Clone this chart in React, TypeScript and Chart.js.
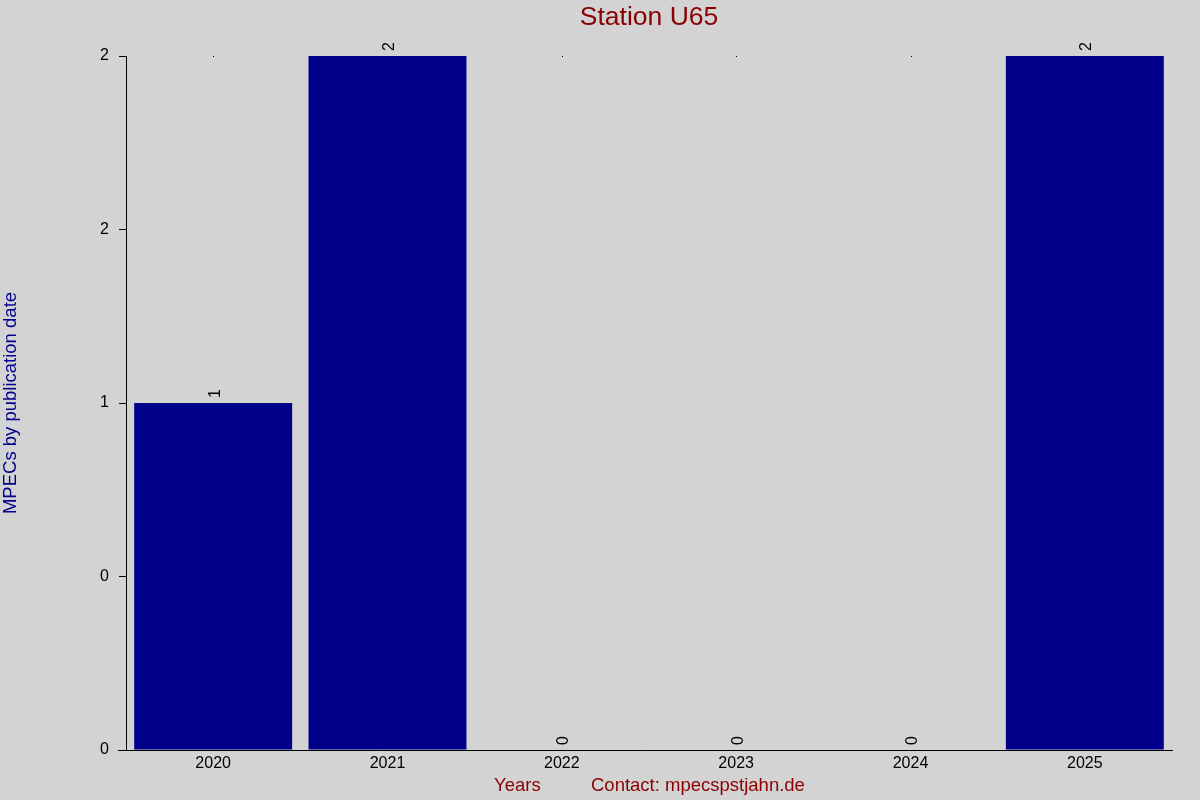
import React, { useEffect, useRef } from "react";
import { Chart, registerables } from "chart.js";

Chart.register(...registerables);

const categories = ["2020", "2021", "2022", "2023", "2024", "2025"];
const mpecCounts = [1, 2, 0, 0, 0, 2];
const yTickLabels = ["0", "0", "1", "2", "2"];
const titleText = "Station U65";
const yAxisTitle = "MPECs by publication date";
const xAxisTitle = "Years";
const contactText = "Contact: mpecspstjahn.de";

const FONT = "'Liberation Sans', Arial, Helvetica, sans-serif";

const overlayPlugin = {
  id: "overlay",
  beforeDraw(chart: any) {
    const ctx = chart.ctx;
    ctx.save();
    ctx.fillStyle = "#d3d3d3";
    ctx.fillRect(0, 0, chart.width, chart.height);
    ctx.restore();
  },
  afterDraw(chart: any) {
    const ctx = chart.ctx;
    const area = chart.chartArea;
    const xScale = chart.scales.x;
    const yScale = chart.scales.y;
    ctx.save();

    // x axis line (extends slightly past the y axis)
    ctx.strokeStyle = "#000";
    ctx.lineWidth = 1;
    ctx.beginPath();
    ctx.moveTo(area.left - 8, Math.round(area.bottom) + 0.5);
    ctx.lineTo(area.right + 1, Math.round(area.bottom) + 0.5);
    ctx.stroke();

    // tiny marks at top for bars below max
    ctx.fillStyle = "#000";
    const maxVal = yScale.max;
    mpecCounts.forEach((v, i) => {
      if (v < maxVal) {
        const x = xScale.getPixelForValue(i);
        ctx.fillRect(Math.round(x), Math.round(area.top), 1, 1);
      }
    });

    // value labels rotated
    ctx.font = `16px ${FONT}`;
    ctx.fillStyle = "#000";
    ctx.textAlign = "left";
    ctx.textBaseline = "middle";
    mpecCounts.forEach((v, i) => {
      const x = xScale.getPixelForValue(i) + 2;
      const y = yScale.getPixelForValue(v) - 5;
      ctx.save();
      ctx.translate(x, y);
      ctx.rotate(-Math.PI / 2);
      ctx.fillText(String(v), 0, 0);
      ctx.restore();
    });

    // title
    ctx.font = `26.5px ${FONT}`;
    ctx.fillStyle = "#8b0000";
    ctx.textAlign = "center";
    ctx.textBaseline = "middle";
    ctx.fillText(titleText, (area.left + area.right) / 2, 18);

    // y axis title
    ctx.save();
    ctx.font = `18.5px ${FONT}`;
    ctx.fillStyle = "#00008b";
    ctx.translate(11, (area.top + area.bottom) / 2);
    ctx.rotate(-Math.PI / 2);
    ctx.textAlign = "center";
    ctx.textBaseline = "middle";
    ctx.fillText(yAxisTitle, 0, 0);
    ctx.restore();

    // bottom texts
    ctx.font = `18.5px ${FONT}`;
    ctx.fillStyle = "#8b0000";
    ctx.textAlign = "left";
    ctx.textBaseline = "middle";
    ctx.fillText(xAxisTitle, 494, 786);
    ctx.fillText(contactText, 591, 786);

    ctx.restore();
  },
};

export default function App() {
  const ref = useRef<HTMLCanvasElement | null>(null);

  useEffect(() => {
    document.body.style.margin = "0";
    if (!ref.current) return;
    const chart = new Chart(ref.current, {
      type: "bar",
      data: {
        labels: categories,
        datasets: [
          {
            data: mpecCounts,
            backgroundColor: "#00008b",
            borderWidth: 0,
            categoryPercentage: 1,
            barPercentage: 0.906,
          },
        ],
      },
      options: {
        animation: false,
        responsive: false,
        devicePixelRatio: 1,
        layout: { padding: { left: 0, top: 56, right: 28, bottom: 0 } },
        plugins: {
          legend: { display: false },
          tooltip: { enabled: false },
          title: { display: false },
        },
        scales: {
          x: {
            grid: { display: false, drawTicks: false },
            border: { display: false },
            ticks: {
              color: "#000",
              font: { family: FONT, size: 16 },
              padding: 4,
              maxRotation: 0,
            },
            afterFit(scale: any) {
              scale.height = 50;
            },
          },
          y: {
            min: 0,
            max: 2,
            grid: {
              drawOnChartArea: false,
              drawTicks: true,
              tickLength: 7,
              color: "#000",
            },
            border: { display: true, color: "#000" },
            ticks: {
              stepSize: 0.5,
              color: "#000",
              font: { family: FONT, size: 16 },
              padding: 10,
              callback: (_v: any, i: number) => yTickLabels[i],
            },
            afterFit(scale: any) {
              scale.width = 126;
            },
          },
        },
      },
      plugins: [overlayPlugin],
    });
    return () => chart.destroy();
  }, []);

  return <canvas ref={ref} width={1200} height={800} style={{ display: "block" }} />;
}
